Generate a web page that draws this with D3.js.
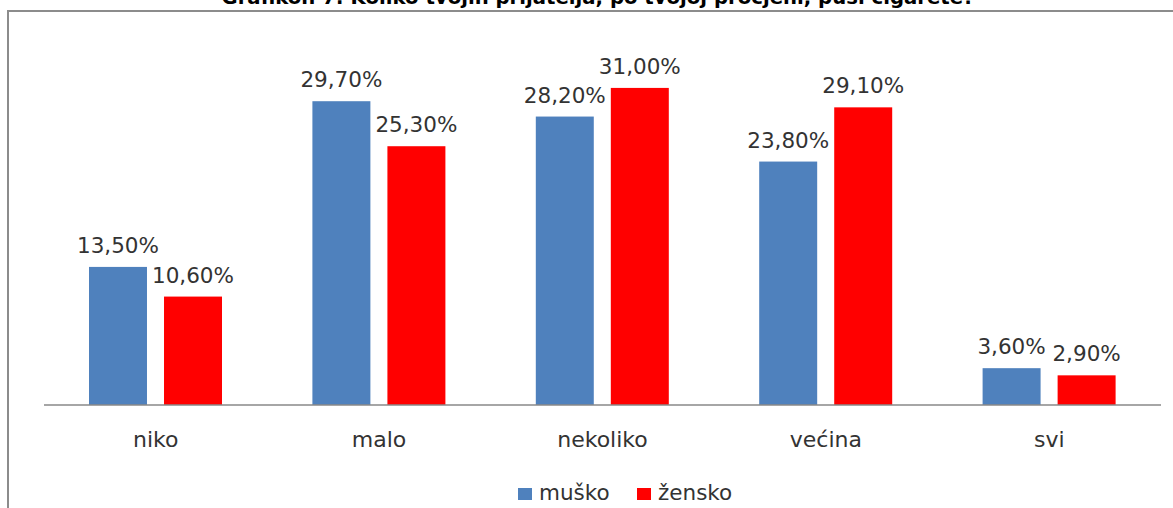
<!DOCTYPE html>
<html lang="hr">
  <head>
    <meta charset="utf-8">
    <title>Grafikon 7</title>
    <script type="text/javascript" src="https://cdn.jsdelivr.net/npm/d3@7"></script>
    <style>
      body { margin: 0; background: #fff; }
      text { font-family: "DejaVu Sans", sans-serif; }
    </style>
  </head>
  <body>
    <script type="text/javascript">
    // answer categories and the two series (percent)
    var categories = ["niko", "malo", "nekoliko", "većina", "svi"];
    var series = ["muško", "žensko"];
    var musko = [13.5, 29.7, 28.2, 23.8, 3.6];
    var zensko = [10.6, 25.3, 31.0, 29.1, 2.9];
    var colors = ["#4F81BD", "#FF0000"];
    var title = "Grafikon 7: Koliko tvojih prijatelja, po tvojoj procjeni, puši cigarete?";

    var w = 1173;
    var h = 508;

    var rows = categories.map(function(c, i) {
      return { cat: c, values: [musko[i], zensko[i]] };
    });

    var svg = d3.select("body")
                .append("svg")
                .attr("width", w)
                .attr("height", h);

    // chart frame (only top and left edges are visible)
    svg.append("path")
       .attr("d", "M8,508 V11 H1173")
       .attr("fill", "none")
       .attr("stroke", "#8c8c8c")
       .attr("stroke-width", 2);

    // title, mostly cut off at the top edge (as in the original)
    svg.append("text")
       .attr("x", 598)
       .attr("y", 4)
       .attr("text-anchor", "middle")
       .attr("font-weight", "bold")
       .attr("font-size", 19)
       .attr("textLength", 753)
       .attr("lengthAdjust", "spacingAndGlyphs")
       .attr("fill", "#000")
       .text(title);

    var xScale = d3.scaleBand()
                   .domain(categories)
                   .range([44, 1161]);
    var x1 = d3.scaleBand()
               .domain(series)
               .range([45, 178])
               .paddingInner(0.227);
    var yScale = d3.scaleLinear()
                   .domain([0, 35])
                   .range([405, 47]);

    var groups = svg.selectAll("g.grp")
                    .data(rows)
                    .enter()
                    .append("g")
                    .attr("class", "grp")
                    .attr("transform", function(d) {
                      return "translate(" + xScale(d.cat) + ",0)";
                    });

    var bars = groups.selectAll("g.bar")
                     .data(function(d) {
                       return d.values.map(function(v, j) { return { s: series[j], v: v, j: j }; });
                     })
                     .enter()
                     .append("g")
                     .attr("class", "bar");

    bars.append("rect")
        .attr("x", function(d) { return x1(d.s); })
        .attr("y", function(d) { return yScale(d.v); })
        .attr("width", x1.bandwidth())
        .attr("height", function(d) { return yScale(0) - yScale(d.v); })
        .attr("fill", function(d) { return colors[d.j]; });

    bars.append("text")
        .attr("x", function(d) { return x1(d.s) + x1.bandwidth() / 2; })
        .attr("y", function(d) { return yScale(d.v) - 14; })
        .attr("text-anchor", "middle")
        .attr("font-size", 21.5)
        .attr("fill", "#333")
        .text(function(d) { return d.v.toFixed(2).replace(".", ",") + "%"; });

    // baseline axis
    svg.append("line")
       .attr("x1", 44).attr("x2", 1161)
       .attr("y1", yScale(0)).attr("y2", yScale(0))
       .attr("stroke", "#888")
       .attr("stroke-width", 1.5);

    // category labels
    svg.selectAll("text.cat")
       .data(categories)
       .enter()
       .append("text")
       .attr("class", "cat")
       .attr("x", function(d) { return xScale(d) + xScale.bandwidth() / 2; })
       .attr("y", 447)
       .attr("text-anchor", "middle")
       .attr("font-size", 22)
       .attr("fill", "#333")
       .text(function(d) { return d; });

    // legend
    var legX = [518, 637];
    var leg = svg.selectAll("g.leg")
                 .data(series)
                 .enter()
                 .append("g")
                 .attr("class", "leg")
                 .attr("transform", function(d, i) { return "translate(" + legX[i] + ",488)"; });
    leg.append("rect")
       .attr("width", 14).attr("height", 12)
       .attr("fill", function(d, i) { return colors[i]; });
    leg.append("text")
       .attr("x", 21)
       .attr("y", 12)
       .attr("font-size", 21.5)
       .attr("fill", "#333")
       .text(function(d) { return d; });
    </script>
  </body>
</html>
